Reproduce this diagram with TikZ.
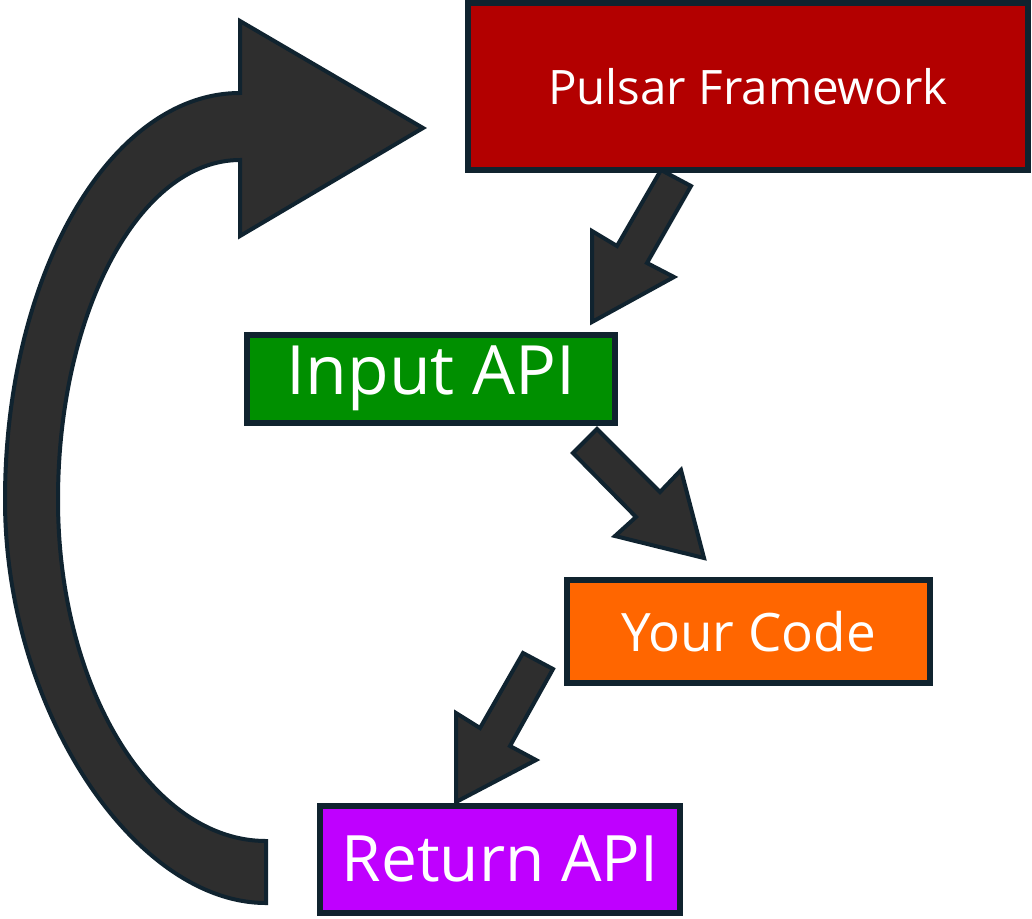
\documentclass[tikz,border=0pt]{standalone}
\usepackage{fontspec}
\setmainfont{Open Sans}
\definecolor{edgec}{HTML}{10232F}
\definecolor{arrowc}{HTML}{2E2E2E}
\definecolor{redc}{HTML}{B30000}
\definecolor{greenc}{HTML}{008F00}
\definecolor{orangec}{HTML}{FF6600}
\definecolor{purplec}{HTML}{BF00FF}
\tikzset{
  box/.style={draw=edgec, line width=6pt, text=white, inner sep=0pt, outer sep=0pt},
  blockarrow/.style={fill=arrowc, draw=edgec, line width=4pt, line join=miter}
}
\begin{document}
\begin{tikzpicture}[x=1pt,y=-1pt]
\useasboundingbox (0,0) rectangle (1032,918);
% boxes
\node[box, fill=redc, minimum width=560pt, minimum height=167pt, font=\fontsize{47.5}{50}\selectfont] (pulsar) at (748,86.5) {Pulsar Framework};
\node[box, fill=greenc, minimum width=368pt, minimum height=88pt, font=\fontsize{68}{70}\selectfont] (input) at (431,378.5) {Input API};
\node[box, fill=orangec, minimum width=363pt, minimum height=103pt, font=\fontsize{53}{56}\selectfont] (code) at (748.5,631.5) {Your Code};
\node[box, fill=purplec, minimum width=360pt, minimum height=107pt, font=\fontsize{64}{66}\selectfont] (ret) at (500,859) {Return API};
% block arrows
\draw[blockarrow] (661,170) -- (691,186) -- (647,263) -- (674,277) -- (592,322) -- (592,231) -- (617,246) -- cycle;
\draw[blockarrow] (597,429) -- (660,492) -- (681,470) -- (704,558) -- (615,536) -- (636,517) -- (573,453) -- cycle;
\draw[blockarrow] (523,653) -- (553,669) -- (510,746) -- (536,760) -- (456,802) -- (456,713) -- (480,728) -- cycle;
% big curved arrow
\draw[blockarrow] (266,903) .. controls (135,903) and (5,710) .. (5,500)
  .. controls (5,275) and (110,93) .. (240,93) -- (240,21) -- (423,128) -- (240,236) -- (240,160)
  .. controls (139.5,160) and (58,312) .. (58,500)
  .. controls (58,688) and (151.6,841) .. (266,841) -- cycle;
\end{tikzpicture}
\end{document}
